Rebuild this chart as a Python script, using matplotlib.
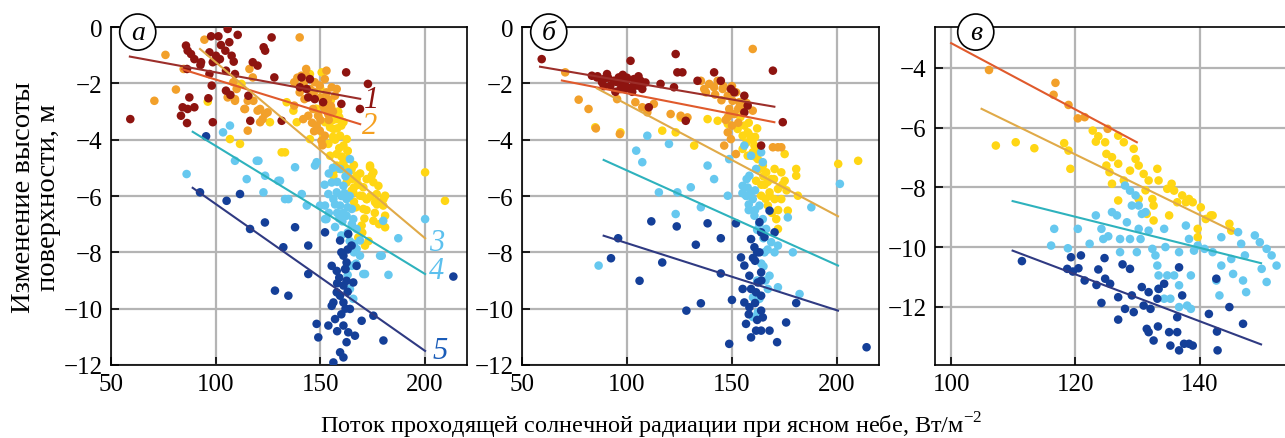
import matplotlib.pyplot as plt
import numpy as np

plt.rcParams['font.family'] = ['Liberation Serif', 'DejaVu Serif']
plt.rcParams['mathtext.fontset'] = 'custom'
plt.rcParams['mathtext.rm'] = 'Liberation Serif'

# ---- data: panel a ----
a_red = [(59.2, -3.27), (85.8, -0.66), (86.6, -0.84), (88.2, -0.96), (89.8, -1.14), (86.3, -1.49),
         (92.7, -1.35), (87.4, -2.5), (84.2, -2.85), (86.6, -2.91), (89.8, -2.85), (83.4, -3.15),
         (86.3, -3.41), (96.5, -2.53), (98.1, -2.08), (98.6, -3.38), (97.0, -1.67), (97.8, -0.33),
         (101.3, -0.33), (105.7, -0.07), (110.5, -0.28), (106.5, -0.54), (102.5, -0.64), (104.6, -0.84),
         (107.6, -1.02), (108.6, -1.23), (104.9, -1.55), (109.2, -1.67), (100.1, -1.02), (97.0, -0.9),
         (98.6, -1.25), (93.0, -1.25), (122.9, -0.72), (123.6, -0.84), (126.7, -0.37), (117.7, -1.25),
         (120.0, -1.37), (128.0, -1.79), (104.9, -2.26), (107.0, -2.41), (116.5, -3.33), (131.5, -3.33),
         (115.6, -2.44), (140.2, -2.14), (141.0, -1.79), (143.4, -2.2), (145.0, -1.85), (144.2, -2.5),
         (147.3, -2.56), (151.3, -2.67), (162.3, -1.61), (172.7, -2.02), (168.9, -2.91), (160.0, -2.73),
         (102.0, -1.14), (100.5, -1.2)]
a_orange = [(94.6, -0.45), (76.0, -0.99), (70.7, -2.62), (81.0, -2.22), (84.7, -1.49), (105.7, -2.5),
            (109.2, -2.62), (116.1, -1.49), (117.7, -1.79), (115.3, -2.62), (113.7, -2.91), (115.3, -3.68),
            (120.0, -2.97), (122.4, -3.27), (124.8, -3.03), (108.4, -1.96), (110.0, -2.2), (109.2, -2.56),
            (114.0, -2.91), (118.0, -2.62), (121.2, -2.91), (123.6, -3.09), (121.2, -3.38), (140.1, -0.37),
            (140.9, -1.73), (143.2, -1.49), (137.5, -1.96), (140.1, -2.32), (142.4, -2.56), (145.0, -2.2),
            (147.3, -1.96), (149.7, -2.08), (152.1, -1.85), (152.9, -2.32), (155.4, -2.14), (157.0, -2.44),
            (153.7, -2.56), (151.3, -2.79), (148.9, -3.15), (148.1, -3.5), (149.7, -3.68), (152.1, -3.86),
            (150.5, -4.04), (153.7, -3.09), (146.5, -2.91), (144.2, -3.15), (141.8, -3.27), (137.5, -2.79),
            (152.9, -1.55), (157.8, -2.2), (139.0, -1.8), (142.0, -2.0), (146.0, -2.4), (155.0, -2.8),
            (143.0, -1.7), (147.0, -2.3), (150.0, -2.5), (152.0, -2.9), (154.0, -3.3), (150.0, -3.3),
            (147.0, -3.7), (151.0, -4.2), (146.0, -3.4), (156.0, -3.0)]
a_yellow = [(145.0, -1.67), (150.6, -1.61), (153.0, -2.79), (155.4, -2.91), (157.8, -3.27), (156.2, -3.62),
            (159.4, -3.86), (161.0, -4.21), (153.8, -4.15), (157.8, -4.51), (162.6, -4.69), (160.2, -5.04),
            (164.1, -5.1), (167.3, -5.4), (170.5, -5.69), (173.7, -4.98), (174.5, -5.28), (175.3, -5.51),
            (176.9, -5.93), (168.9, -5.99), (164.9, -5.81), (172.1, -6.11), (176.1, -6.22), (180.9, -5.99),
            (180.0, -6.34), (157.8, -4.92), (161.0, -3.38), (152.2, -3.38), (149.0, -3.15), (151.4, -3.86),
            (154.6, -3.56), (162.6, -3.98), (145.0, -3.98), (137.1, -2.97), (133.9, -2.67), (131.5, -4.45),
            (125.9, -3.38), (138.7, -3.38), (154.6, -4.57), (161.0, -4.8), (164.9, -5.04), (167.3, -5.28),
            (172.1, -5.4), (173.7, -4.92), (175.3, -5.16), (177.7, -5.64), (180.1, -6.11), (180.9, -6.7),
            (180.9, -7.11), (175.3, -6.88), (170.5, -6.46), (169.7, -7.05), (171.3, -7.76), (168.1, -7.47),
            (172.1, -6.11), (165.7, -5.87), (162.5, -5.52), (157.8, -5.04), (156.2, -5.28), (200.0, -5.16),
            (209.5, -6.17), (133.1, -4.45), (106.8, -3.98), (111.6, -4.15), (112.3, -2.02), (96.2, -2.65),
            (158.5, -3.0), (160.0, -3.5), (163.0, -4.4), (166.0, -4.9), (169.0, -5.2), (159.0, -4.3),
            (156.0, -3.9), (163.5, -5.4), (167.0, -6.4), (171.0, -6.8),
            (152.0, -2.5), (154.0, -3.0), (156.0, -3.3), (158.0, -3.6), (157.0, -4.0), (160.0, -4.6),
            (162.0, -5.0), (165.0, -5.4), (166.0, -5.7), (168.0, -5.6), (170.0, -6.0), (172.0, -6.5),
            (174.0, -6.0), (176.0, -6.6), (178.0, -7.0), (170.0, -7.3), (166.0, -6.2), (163.0, -4.4),
            (159.0, -3.2), (155.0, -2.6), (150.0, -2.2), (148.0, -2.9), (173.0, -7.6), (177.0, -6.3)]
a_lblue = [(86.1, -5.22), (106.8, -3.5), (103.5, -3.74), (109.2, -4.75), (114.8, -5.4), (119.6, -4.75),
           (123.6, -5.28), (122.8, -5.87), (130.7, -5.46), (133.1, -6.11), (137.9, -4.98), (141.1, -5.93),
           (143.5, -6.34), (147.4, -4.92), (152.9, -6.82), (180.0, -6.88), (187.2, -7.5), (200.0, -6.82),
           (179.3, -8.12), (182.5, -8.8), (171.3, -8.77), (120.4, -4.75), (129.9, -5.46), (134.7, -6.11),
           (148.2, -4.8), (149.8, -6.34), (152.2, -6.82), (153.8, -5.93), (156.2, -6.11), (155.4, -5.52),
           (157.8, -5.87), (159.4, -6.34), (161.0, -5.64), (162.5, -6.11), (165.0, -6.46), (162.5, -6.7),
           (165.7, -6.82), (167.3, -7.17), (164.1, -4.69), (163.3, -5.16), (159.4, -5.04), (168.9, -7.58),
           (167.3, -7.88), (168.9, -8.12), (165.0, -8.48), (164.1, -9.3), (165.7, -9.65), (178.5, -8.12),
           (170.5, -8.77), (152.2, -6.34), (158.0, -6.6), (160.5, -6.9), (163.0, -7.3), (166.0, -7.7),
           (157.0, -6.3), (161.5, -5.9), (164.0, -6.0), (160.0, -7.4),
           (154.0, -5.2), (156.0, -5.0), (158.0, -5.5), (160.0, -6.0), (162.0, -5.3), (163.0, -6.4),
           (165.0, -7.0), (161.0, -6.6), (159.0, -6.8), (157.0, -7.1), (164.0, -7.6), (166.0, -8.0),
           (167.0, -8.4), (163.0, -8.8), (154.0, -6.6), (152.0, -5.6)]
a_dblue = [(95.4, -3.88), (92.5, -5.87), (105.2, -6.17), (111.6, -5.93), (123.5, -6.94), (116.4, -7.17),
           (137.9, -7.11), (132.3, -7.82), (144.2, -7.76), (152.2, -7.29), (144.2, -8.77), (128.3, -9.36),
           (134.7, -9.54), (159.4, -7.58), (163.3, -7.35), (164.9, -7.76), (161.0, -8.12), (162.5, -8.36),
           (155.4, -8.48), (157.8, -8.66), (161.8, -8.59), (167.3, -8.48), (162.5, -9.01), (161.0, -9.18),
           (157.8, -9.42), (156.2, -9.78), (161.0, -9.78), (164.1, -10.01), (157.0, -10.37), (153.8, -10.6),
           (148.2, -10.54), (149.0, -11.02), (161.0, -10.6), (163.3, -10.84), (166.5, -10.96), (162.5, -11.19),
           (159.4, -11.55), (161.0, -11.73), (156.2, -11.91), (169.7, -10.43), (175.3, -10.25), (180.1, -11.13),
           (155.4, -9.9), (159.4, -9.54), (165.7, -9.07), (213.5, -8.86), (163.0, -7.9), (159.0, -8.9),
           (160.0, -8.0), (162.0, -8.6), (158.0, -9.1), (163.0, -9.4), (160.0, -10.2), (158.0, -10.8),
           (162.0, -10.0)]

# ---- data: panel b ----
b_red = [(59.4, -1.14), (83.3, -1.73), (85.7, -1.79), (88.9, -1.85), (90.5, -1.67), (93.7, -1.91),
         (96.1, -1.79), (97.7, -2.02), (99.3, -1.91), (100.1, -2.14), (101.7, -1.2), (103.3, -1.85),
         (104.9, -2.08), (106.5, -1.91), (107.3, -2.2), (108.8, -1.97), (92.1, -2.08), (88.1, -1.96),
         (96.9, -2.2), (110.4, -2.85), (116.0, -2.02), (122.4, -2.14), (123.2, -0.96), (124.0, -1.61),
         (126.4, -1.61), (128.0, -3.33), (133.6, -1.91), (141.5, -1.61), (144.7, -1.91), (149.5, -2.2),
         (151.1, -2.32), (155.9, -2.44), (157.5, -2.79), (155.9, -3.03), (163.9, -4.21), (169.5, -1.55),
         (174.2, -3.38), (94.5, -2.3), (102.5, -2.3), (91.0, -1.8), (98.0, -1.7), (105.5, -1.75),
         (86.0, -1.75), (89.0, -2.1), (95.0, -1.95), (100.0, -1.8), (103.0, -2.1), (99.0, -2.2)]
b_orange = [(70.6, -1.61), (77.0, -2.58), (81.7, -2.91), (85.2, -3.6), (96.6, -3.8), (95.3, -2.56),
            (104.0, -2.67), (107.3, -2.85), (109.7, -3.03), (112.8, -2.73), (120.8, -3.09), (125.6, -3.15),
            (128.8, -3.21), (136.8, -2.2), (139.2, -2.02), (141.5, -2.14), (143.2, -1.91), (145.6, -2.2),
            (148.0, -2.44), (150.3, -2.62), (152.0, -2.32), (153.5, -2.67), (155.1, -2.91), (148.7, -2.91),
            (151.1, -3.09), (148.0, -3.74), (146.3, -4.21), (151.9, -4.51), (149.5, -3.98), (159.9, -0.78),
            (169.5, -4.27), (171.9, -4.27), (173.5, -4.27), (159.9, -2.97), (135.2, -1.91), (137.6, -2.32),
            (147.0, -3.3), (153.0, -3.4), (145.0, -2.6),
            (142.0, -2.4), (146.0, -2.1), (150.0, -2.1), (153.0, -2.9), (157.0, -2.7), (150.0, -3.5),
            (148.0, -3.2)]
b_yellow = [(84.9, -3.56), (96.9, -3.74), (116.8, -3.68), (123.2, -3.74), (132.0, -4.21), (125.6, -3.21),
            (138.4, -3.27), (143.2, -3.33), (148.0, -3.44), (152.7, -3.62), (155.1, -3.86), (157.5, -3.74),
            (159.1, -3.98), (160.7, -4.21), (159.9, -4.45), (162.3, -4.69), (164.7, -4.92), (166.3, -5.16),
            (168.7, -5.4), (170.3, -5.04), (173.5, -5.16), (175.1, -5.46), (171.9, -5.75), (167.9, -5.87),
            (170.3, -6.11), (173.5, -6.11), (176.6, -6.52), (171.1, -6.82), (171.9, -7.17), (167.1, -6.34),
            (163.9, -5.99), (161.5, -5.46), (175.1, -4.51), (180.6, -5.04), (180.6, -5.28), (181.4, -5.99),
            (200.6, -4.86), (210.1, -4.75), (157.5, -4.57), (155.1, -4.33), (163.1, -5.04), (154.0, -3.2),
            (158.0, -3.4), (161.0, -3.9), (165.5, -5.6), (169.0, -6.6), (162.0, -4.3),
            (156.0, -3.5), (158.0, -3.8), (160.0, -4.0), (157.0, -4.1), (161.0, -4.6), (163.0, -4.4),
            (165.0, -5.3), (167.0, -5.5), (168.0, -6.0), (166.0, -6.1), (172.0, -6.5), (174.0, -5.6),
            (176.0, -5.8), (170.0, -5.4), (164.0, -5.6), (162.0, -3.6)]
b_lblue = [(86.5, -8.47), (104.4, -4.39), (109.7, -3.86), (107.3, -4.8), (120.0, -4.15), (115.2, -5.87),
           (124.0, -5.87), (130.4, -5.69), (138.4, -4.92), (141.5, -5.4), (148.0, -5.99), (148.7, -4.69),
           (135.2, -6.4), (123.2, -6.64), (155.9, -4.21), (159.1, -4.57), (163.9, -4.45), (164.7, -4.8),
           (161.5, -5.04), (158.3, -5.28), (155.1, -5.64), (156.7, -5.99), (159.9, -6.11), (163.1, -6.34),
           (160.7, -6.7), (164.7, -6.82), (166.3, -7.17), (168.7, -7.64), (170.3, -8.0), (165.5, -8.0),
           (167.9, -8.83), (167.1, -9.3), (163.1, -9.65), (162.3, -10.13), (179.0, -8.0), (171.9, -7.76),
           (171.9, -9.24), (182.2, -9.48), (187.8, -6.4), (201.4, -5.57), (176.6, -6.76), (157.5, -5.7),
           (161.0, -5.8), (158.0, -6.5), (162.0, -7.2), (165.0, -8.5), (160.0, -10.3),
           (157.0, -5.4), (159.0, -5.9), (158.0, -6.3), (161.0, -6.5), (163.0, -7.0), (165.0, -7.5),
           (167.0, -7.9), (164.0, -8.4), (166.0, -9.0), (162.0, -9.0), (160.0, -9.6), (157.0, -6.0),
           (155.0, -5.9)]
b_dblue = [(92.4, -8.21), (95.8, -7.5), (106.0, -9.01), (111.6, -6.9), (116.8, -8.36), (123.7, -7.08),
           (128.3, -10.07), (132.8, -7.73), (135.2, -9.81), (138.4, -6.97), (144.7, -7.5), (144.7, -8.75),
           (148.7, -11.25), (150.0, -9.69), (151.9, -6.97), (154.3, -8.18), (155.9, -8.47), (158.3, -8.83),
           (159.1, -7.53), (160.7, -7.82), (163.1, -6.93), (163.9, -7.29), (165.5, -7.46), (163.1, -8.0),
           (163.9, -8.71), (162.3, -9.07), (161.5, -9.42), (163.9, -9.54), (159.1, -9.3), (155.9, -9.78),
           (158.3, -9.95), (163.9, -10.07), (164.7, -10.31), (156.7, -10.54), (161.5, -10.78), (159.1, -11.02),
           (163.9, -10.78), (167.9, -10.78), (171.5, -11.19), (175.8, -10.49), (180.6, -9.8), (167.9, -6.52),
           (170.3, -7.29), (214.1, -11.37), (155.1, -9.3), (161.0, -8.3), (162.0, -10.4),
           (160.0, -8.2), (162.0, -8.0), (161.0, -9.8), (158.0, -10.2), (164.0, -9.0)]

# ---- data: panel c ----
c_orange = [(106.1, -4.07), (116.8, -4.5), (116.5, -4.9), (118.9, -5.24), (120.4, -5.69), (121.5, -5.65),
            (125.2, -6.04)]
c_yellow = [(107.2, -6.6), (110.4, -6.49), (113.4, -6.69), (118.2, -6.52), (118.9, -6.77), (119.2, -7.38),
            (122.8, -6.1), (123.7, -6.29), (124.8, -6.49), (123.3, -6.47), (125.0, -6.88), (125.9, -6.99),
            (125.0, -7.27), (125.5, -7.49), (126.9, -7.21), (127.8, -6.49), (129.4, -6.71), (129.7, -7.05),
            (128.8, -7.44), (127.8, -7.77), (125.9, -7.88), (126.9, -8.44), (130.2, -7.27), (131.0, -7.55),
            (131.8, -7.77), (131.3, -8.1), (130.2, -8.39), (132.4, -8.39), (132.6, -8.61), (132.6, -9.11),
            (131.5, -8.89), (133.2, -7.38), (133.4, -7.77), (134.8, -8.05), (135.5, -7.88), (135.9, -8.11),
            (137.2, -8.27), (136.4, -8.5), (135.1, -8.94), (137.8, -8.5), (138.3, -8.39), (138.9, -8.5),
            (140.2, -8.67), (141.0, -9.06), (141.8, -8.94), (139.7, -9.39), (139.7, -9.67), (142.1, -8.94),
            (144.8, -9.22), (145.1, -9.45), (126.9, -6.27)]
c_lblue = [(116.1, -9.95), (116.6, -9.39), (118.8, -10.04), (120.4, -9.39), (122.3, -9.89), (123.3, -8.94),
           (124.2, -9.39), (124.5, -9.73), (125.3, -9.64), (125.9, -8.83), (126.7, -8.94), (127.2, -9.73),
           (127.2, -10.17), (128.3, -9.17), (128.8, -9.73), (129.1, -8.61), (128.0, -7.94), (128.8, -8.11),
           (129.7, -8.27), (130.2, -8.61), (130.7, -8.89), (130.2, -9.39), (130.5, -9.73), (129.9, -10.17),
           (131.3, -8.83), (131.8, -9.45), (132.4, -10.06), (132.9, -10.28), (133.2, -10.62), (133.4, -10.95),
           (134.3, -9.39), (134.5, -10.0), (134.8, -10.95), (135.3, -11.73), (135.9, -10.95), (136.7, -10.17),
           (137.8, -9.28), (138.3, -9.73), (138.6, -10.95), (138.6, -12.07), (139.7, -9.95), (139.1, -10.12),
           (140.8, -10.06), (142.1, -10.17), (143.5, -9.67), (143.2, -11.62), (143.5, -10.62), (145.1, -10.4),
           (146.2, -9.5), (146.7, -9.89), (147.3, -10.28), (147.0, -11.12), (145.4, -10.9), (148.9, -9.61),
           (149.7, -9.84), (150.8, -10.06), (151.6, -10.28), (152.4, -10.62), (150.8, -11.17), (150.0, -10.73),
           (147.5, -11.51), (142.7, -11.12), (134.3, -11.73), (133.4, -11.4), (136.7, -11.28), (138.0, -11.96),
           (136.7, -12.01)]
c_dblue = [(111.4, -10.47), (118.7, -10.73), (119.3, -10.34), (119.6, -10.82), (120.9, -10.28), (120.5, -10.71),
           (121.5, -11.12), (123.4, -11.27), (123.7, -10.75), (124.7, -10.37), (124.2, -11.87), (124.8, -11.06),
           (125.6, -11.23), (126.9, -11.68), (126.9, -12.43), (127.6, -10.58), (128.0, -12.07), (128.8, -10.73),
           (129.1, -11.62), (129.4, -12.18), (130.7, -11.34), (131.0, -11.96), (131.8, -11.51), (132.1, -12.07),
           (131.5, -12.74), (131.8, -12.85), (132.6, -13.13), (133.2, -11.73), (133.3, -12.66), (133.4, -11.4),
           (134.3, -11.23), (135.1, -12.85), (135.3, -13.3), (136.4, -12.85), (136.4, -12.35), (136.7, -10.68),
           (137.2, -11.62), (136.7, -13.46), (137.5, -13.24), (138.3, -13.24), (138.9, -13.3), (141.5, -12.24),
           (142.7, -11.06), (142.8, -12.83), (142.9, -13.46), (144.8, -12.01), (147.0, -12.57)]

# regression lines: (x0, y0, x1, y1)
a_lines = [(59, -1.05, 169, -2.55), (84, -1.5, 169, -3.45), (92.5, -0.78, 200, -7.5),
           (89, -3.72, 200, -8.77), (89, -5.71, 200, -11.5)]
b_lines = [(58.6, -1.41, 170.2, -2.83), (69, -1.9, 170.2, -3.38), (85.7, -2.18, 200.5, -6.72),
           (88.9, -4.72, 200.5, -8.47), (88.9, -7.41, 200.5, -10.07)]
c_lines = [None, (100, -3.17, 129.9, -6.49), (104.9, -5.37, 145.4, -9.47),
           (109.9, -8.46, 149.9, -10.54), (109.9, -10.12, 149.9, -13.26)]

dot_colors = ['#8e1410', '#f2a02a', '#ffd614', '#66c8ef', '#143f98']
line_colors = ['#9c2e2a', '#e05a2c', '#e0aa48', '#2eb2bd', '#2f3a82']
label_colors = ['#8e1410', '#f5a020', '#5cc0ee', '#5cc0ee', '#1a5cb8']

fig = plt.figure(figsize=(12.85, 4.39), dpi=100)
positions = [[0.0864, 0.1663, 0.2770, 0.7699],
             [0.4062, 0.1663, 0.2778, 0.7699],
             [0.7276, 0.1663, 0.2760, 0.7699]]
panels = [
    ([a_red, a_orange, a_yellow, a_lblue, a_dblue], a_lines, (50, 220), (-12, 0), [50, 100, 150, 200], range(-12, 1, 2), 'а'),
    ([b_red, b_orange, b_yellow, b_lblue, b_dblue], b_lines, (50, 220), (-12, 0), [50, 100, 150, 200], range(-12, 1, 2), 'б'),
    ([[], c_orange, c_yellow, c_lblue, c_dblue], c_lines, (97.4, 154.5), (-13.95, -2.63), [100, 120, 140], range(-12, -3, 2), 'в'),
]
draw_order = [2, 1, 3, 4, 0]

axes = []
for pos, (series, lines, xl, yl, xt, yt, letter) in zip(positions, panels):
    ax = fig.add_axes(pos)
    axes.append(ax)
    for i in draw_order:
        pts = np.array(series[i]).reshape(-1, 2)
        if len(pts):
            ax.scatter(pts[:, 0], pts[:, 1], s=38, color=dot_colors[i], edgecolors='none', zorder=3)
    for i, ln in enumerate(lines):
        if ln is not None:
            ax.plot([ln[0], ln[2]], [ln[1], ln[3]], color=line_colors[i], lw=1.5, zorder=4)
    ax.set_xlim(*xl)
    ax.set_ylim(*yl)
    ax.set_xticks(xt)
    ax.set_yticks(list(yt))
    ax.grid(True, color='#b4b4b4', lw=1.6, zorder=0)
    ax.set_axisbelow(True)
    ax.tick_params(direction='in', length=6, width=1.2, labelsize=18, pad=6)
    for sp in ax.spines.values():
        sp.set_linewidth(1.2)
    ax.text(0.075 if letter != 'в' else 0.115, 0.985, letter, transform=ax.transAxes,
            fontsize=20, style='italic', ha='center', va='center', zorder=6,
            bbox=dict(boxstyle='circle,pad=0.2', fc='white', ec='black', lw=1.2))

# numbers on panel a
num_pos = [(174.5, -2.56), (173.7, -3.5), (205.5, -7.64), (205.5, -8.65), (207.1, -11.49)]
for i, (x, y) in enumerate(num_pos):
    axes[0].text(x, y, str(i + 1), color=label_colors[i], fontsize=22, style='italic',
                 ha='center', va='center', zorder=7)

axes[0].set_ylabel('Изменение высоты\nповерхности, м', fontsize=20.5, linespacing=1.0, labelpad=2)
fig.text(0.507, 0.03, 'Поток проходящей солнечной радиации при ясном небе, Вт/м$^{-2}$',
         fontsize=17.5, ha='center', va='center')

plt.savefig('out.png', dpi=100)
